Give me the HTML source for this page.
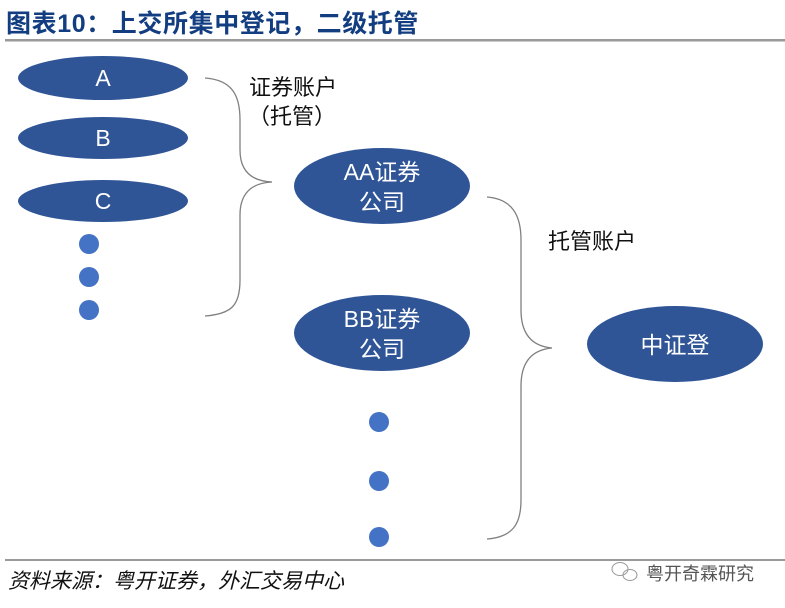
<!DOCTYPE html>
<html><head><meta charset="utf-8"><style>
html,body{margin:0;padding:0;background:#fff;}
svg{display:block;}
text{font-family:"Liberation Sans","Noto Sans CJK SC",sans-serif;}
</style></head><body>
<svg width="785" height="608" viewBox="0 0 785 608" xmlns="http://www.w3.org/2000/svg">
<defs><clipPath id="cl"><rect x="0" y="0" width="763" height="608"/></clipPath></defs>
<text x="6" y="32" font-size="25" font-weight="bold" fill="#123d80" letter-spacing="0.6">图表10：上交所集中登记，二级托管</text>
<rect x="5" y="39" width="780" height="2.5" fill="#9a9a9a"/>
<g fill="#2f5597">
<ellipse cx="103" cy="78" rx="85" ry="22"/>
<ellipse cx="103" cy="138" rx="85" ry="21"/>
<ellipse cx="103" cy="201" rx="85" ry="21"/>
<ellipse cx="382" cy="186" rx="88" ry="38"/>
<ellipse cx="382" cy="333" rx="88" ry="38"/>
<ellipse cx="675" cy="344" rx="88" ry="38" clip-path="url(#cl)"/>
</g>
<g fill="#4472c4">
<circle cx="89" cy="244" r="10"/><circle cx="89" cy="277" r="10"/><circle cx="89" cy="310" r="10"/>
<circle cx="379" cy="422" r="10"/><circle cx="379" cy="481" r="10"/><circle cx="379" cy="537" r="10"/>
</g>
<g fill="#fff" font-size="23" text-anchor="middle">
<text x="103" y="86">A</text>
<text x="103" y="146">B</text>
<text x="103" y="209">C</text>
<text x="382" y="180">AA证券</text>
<text x="382" y="210">公司</text>
<text x="382" y="327">BB证券</text>
<text x="382" y="357">公司</text>
<text x="675" y="353">中证登</text>
</g>
<g fill="none" stroke="#808080" stroke-width="1.3">
<path d="M205,78 C232,80 240,95 240,120 L240,150 C240,170 250,181 272,182 C250,183 240,195 240,215 L240,280 C240,305 232,314 205,316"/>
<path d="M487,197 C512,199 521,215 521,240 L521,310 C521,332 530,346 552,348 C530,350 521,364 521,386 L521,500 C521,525 512,537 487,539"/>
</g>
<g fill="#111" font-size="22">
<text x="249" y="95">证券账户</text>
<text x="248" y="124">（托管）</text>
<text x="548" y="249">托管账户</text>
</g>
<rect x="5" y="559" width="780" height="2" fill="#9a9a9a"/>
<text x="8" y="588" font-size="21" font-style="italic" fill="#111">资料来源：粤开证券，外汇交易中心</text>
<g fill="none" stroke="#999" stroke-width="1">
<ellipse cx="620" cy="569" rx="8" ry="6.5"/><ellipse cx="630" cy="575" rx="7" ry="5.5"/>
</g>
<text x="646" y="580" font-size="18" fill="#555">粤开奇霖研究</text>
</svg>
</body></html>
